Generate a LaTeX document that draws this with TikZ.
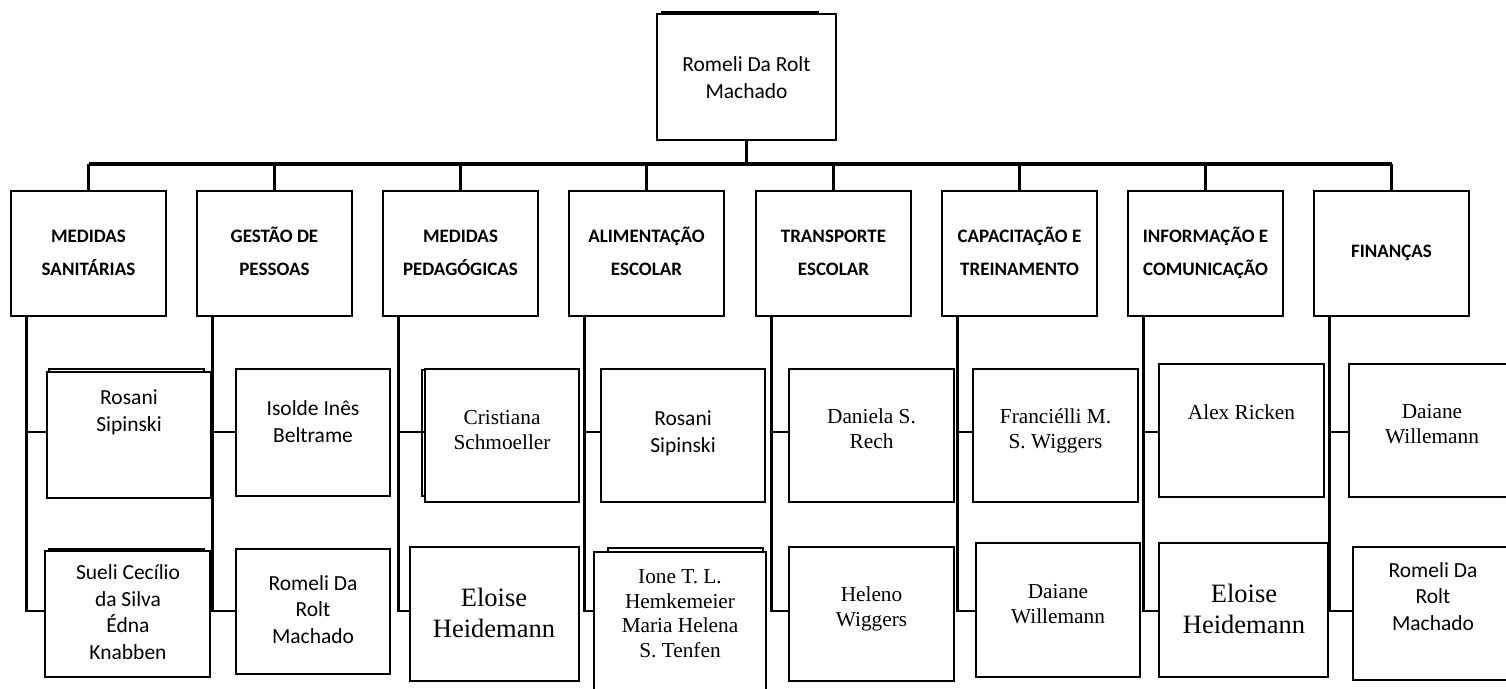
\documentclass[tikz,border=0pt]{standalone}
\usepackage{fontspec}
\newfontfamily\calfont{Carlito}
\newfontfamily\tmsfont{Liberation Serif}
\newcommand\boxnode[5]{%
  \pgfmathsetmacro\bwd{#4-#2}\pgfmathsetmacro\bht{#5-#3}%
  \pgfmathsetmacro\bcx{(#2+#4)/2}\pgfmathsetmacro\bcy{(#3+#5)/2}%
  \node[bx, minimum width=\bwd pt, minimum height=\bht pt] (#1) at (\bcx,\bcy) {};}
\begin{document}
\begin{tikzpicture}[x=1pt,y=-1pt,
  bx/.style={draw, line width=2.2pt, fill=white, inner sep=0pt, outer sep=0pt},
  bk/.style={draw, line width=2.2pt, fill=white},
  ln/.style={line width=2.4pt},
  hd/.style={font=\calfont\bfseries\fontsize{19}{33}\selectfont, align=center, anchor=base, inner sep=0pt},
  cl/.style={font=\calfont\fontsize{21.5}{26.5}\selectfont, align=center, anchor=base, inner sep=0pt},
  tm/.style={font=\tmsfont\fontsize{21.3}{24.5}\selectfont, align=center, anchor=base, inner sep=0pt},
  tmb/.style={font=\tmsfont\fontsize{26.5}{30.5}\selectfont, align=center, anchor=base, inner sep=0pt}]
\useasboundingbox (0,0) rectangle (1506,688);
% back (shadow) rectangles
\draw[bk] (662,12) rectangle (818,130);
\draw[bk] (49,369) rectangle (204,490);
\draw[bk] (49,549) rectangle (204,670);
\draw[bk] (422,370) rectangle (570,496);
\draw[bk] (608,548) rectangle (763,690);
% top box
\boxnode{top}{657}{14}{836}{140}
\node[cl] (ttop) at (746.5,98) {Romeli Da Rolt\\Machado};
% header boxes
\foreach \i/\l/\txt in {1/11/{MEDIDAS\\SANITÁRIAS},2/197/{GESTÃO DE\\PESSOAS},3/383/{MEDIDAS\\PEDAGÓGICAS},4/569/{ALIMENTAÇÃO\\ESCOLAR},5/756/{TRANSPORTE\\ESCOLAR},6/942/{CAPACITAÇÃO E\\TREINAMENTO},7/1128/{INFORMAÇÃO E\\COMUNICAÇÃO}}{
  \pgfmathsetmacro\hr{\l+155}
  \boxnode{h\i}{\l}{191}{\hr}{316}
  \node[hd] (th\i) at (h\i.center |- 0,275) {\txt};
}
\boxnode{h8}{1314}{191}{1469}{316}
\node[hd] (th8) at (h8.center |- 0,257) {FINANÇAS};
% member boxes
\boxnode{ma1}{47}{372}{211}{498}
\boxnode{mb1}{45}{551}{210}{677}
\boxnode{ma2}{236}{369}{390}{496}
\boxnode{mb2}{236}{549}{390}{674}
\boxnode{ma3}{425}{369}{579}{502}
\boxnode{mb3}{410}{547}{579}{681}
\boxnode{ma4}{601}{369}{765}{502}
\boxnode{mb4}{594}{552}{766}{700}
\boxnode{ma5}{789}{369}{954}{502}
\boxnode{mb5}{789}{547}{954}{681}
\boxnode{ma6}{973}{369}{1138}{502}
\boxnode{mb6}{976}{543}{1140}{677}
\boxnode{ma7}{1159}{364}{1324}{497}
\boxnode{mb7}{1159}{543}{1328}{677}
\boxnode{ma8}{1349}{364}{1514}{497}
\boxnode{mb8}{1353}{547}{1514}{680}
% member texts (coordinate = baseline of last line)
\node[cl] (ta1) at (129,431) {Rosani\\Sipinski};
\node[cl] (tb1) at (128,659) {Sueli Cecílio\\da Silva\\Édna\\Knabben};
\node[cl] (ta2) at (313,442) {Isolde Inês\\Beltrame};
\node[cl] (tb2) at (313,643) {Romeli Da\\Rolt\\Machado};
\node[tm] (ta3) at (502,449) {Cristiana\\Schmoeller};
\node[tmb] (tb3) at (494,637) {Eloise\\Heidemann};
\node[cl] (ta4) at (683,452) {Rosani\\Sipinski};
\node[tm] (tb4) at (680,657) {Ione T. L.\\Hemkemeier\\Maria Helena\\S. Tenfen};
\node[tm] (ta5) at (871.5,448) {Daniela S.\\Rech};
\node[tm] (tb5) at (871.5,626) {Heleno\\Wiggers};
\node[tm] (ta6) at (1055.5,448) {Franciélli M.\\S. Wiggers};
\node[tm] (tb6) at (1058,623) {Daiane\\Willemann};
\node[tm] (ta7) at (1241.5,419) {Alex Ricken};
\node[tmb] (tb7) at (1244,633) {Eloise\\Heidemann};
\node[tm] (ta8) at (1432,443) {Daiane\\Willemann};
\node[cl] (tb8) at (1433,630) {Romeli Da\\Rolt\\Machado};
% connectors
\coordinate (busL) at (88.5,164);
\coordinate (busR) at (1391.5,164);
\coordinate (r1) at (0,432);
\coordinate (r2) at (0,611);
\draw[ln, line width=3.2pt] (top.south) -- (top.south |- busL);
\draw[ln, line width=3.2pt] (busL) -- (busR);
\foreach \i in {1,...,8}{
  \draw[ln] (h\i.north) -- (h\i.north |- busL);
  \coordinate (v\i) at ([xshift=15.5pt]h\i.south west);
  \draw[ln] (v\i) |- (mb\i.west |- r2);
  \draw[ln] (v\i |- r1) -- (ma\i.west |- r1);
}
\end{tikzpicture}
\end{document}
